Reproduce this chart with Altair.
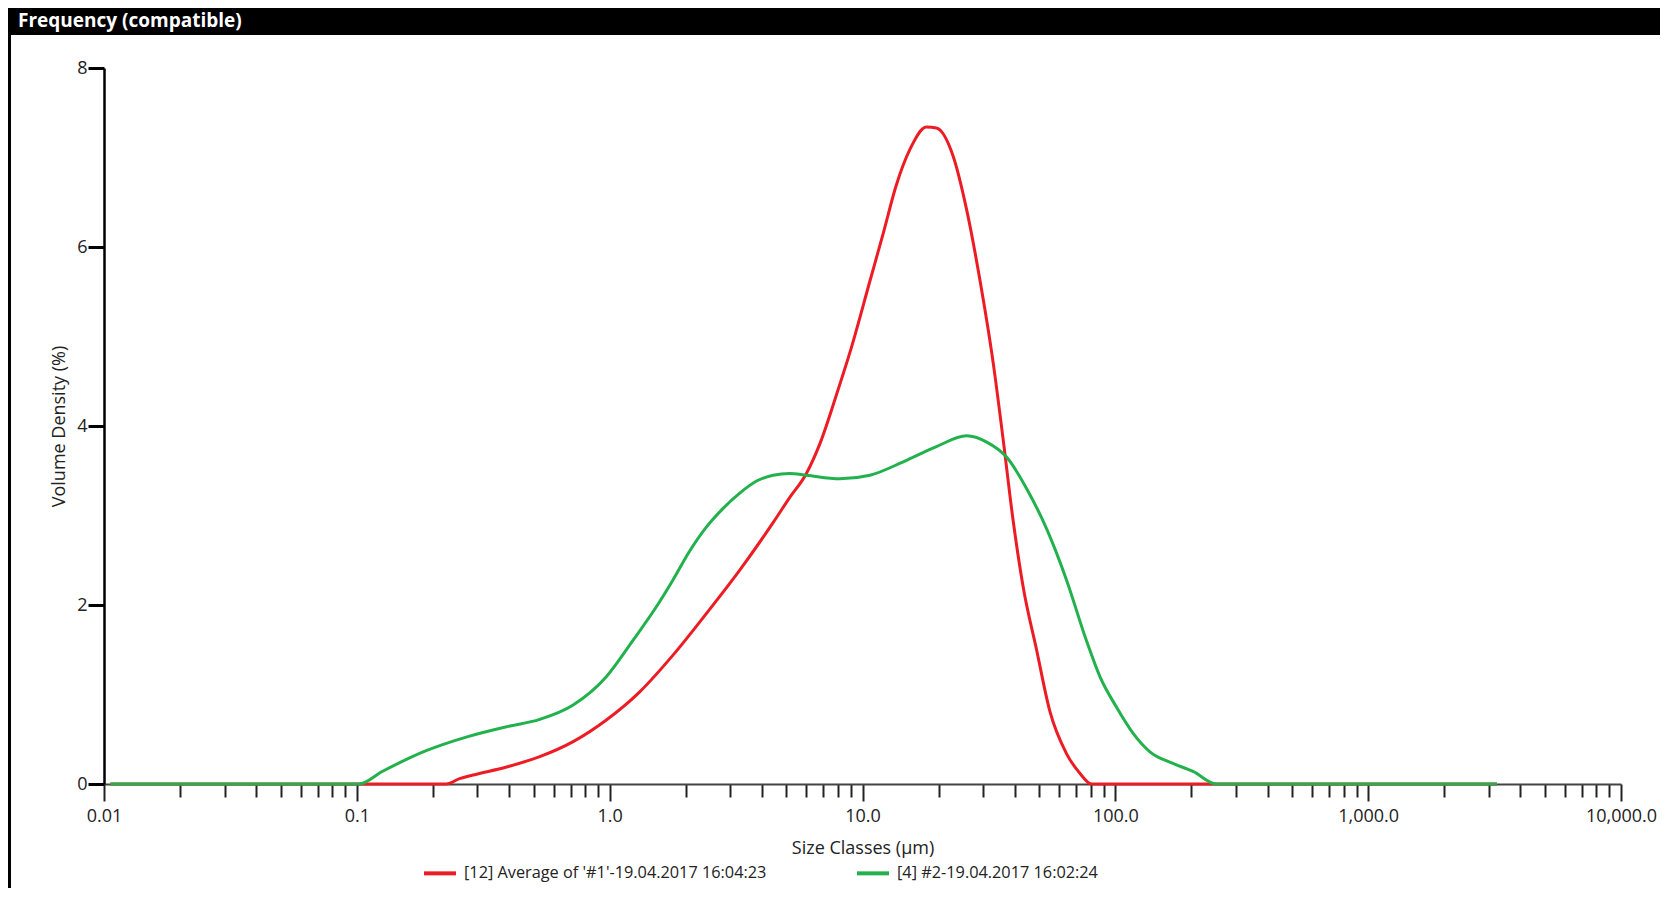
import altair as alt
import pandas as pd

# ---------------- data ----------------
red_label = "[12] Average of '#1'-19.04.2017 16:04:23"
green_label = "[4] #2-19.04.2017 16:02:24"
red_color = "#ED1C24"
green_color = "#22B14C"

red_x = [0.0106, 0.226, 0.255, 0.288, 0.391, 0.529, 0.717, 0.97, 1.315, 1.78, 2.42, 3.27,
         4.43, 5.15, 6.0, 6.78, 7.89, 8.98, 10.7, 12.07, 13.6, 15.4, 17.9, 19.6, 22.8, 25.8,
         29.1, 32.9, 36.0, 39.4, 43.2, 48.8, 55.0, 64.1, 72.4, 80.5, 3230]
red_y = [0, 0, 0.06, 0.10, 0.19, 0.305, 0.473, 0.715, 1.03, 1.44, 1.91, 2.39,
         2.92, 3.20, 3.47, 3.80, 4.35, 4.85, 5.62, 6.15, 6.69, 7.09, 7.34, 7.33, 7.02, 6.42,
         5.64, 4.70, 3.85, 2.95, 2.20, 1.50, 0.82, 0.34, 0.12, 0, 0]

green_x = [0.0106, 0.102, 0.126, 0.187, 0.275, 0.391, 0.529, 0.717, 0.97, 1.24, 1.53, 1.78,
           2.07, 2.42, 2.81, 3.27, 3.81, 4.43, 5.15, 6.0, 8.13, 10.7, 14.5, 19.6, 25.8,
           31.0, 37.2, 44.6, 53.5, 64.1, 76.9, 86.9, 101, 117.6, 137, 169, 203, 251, 3230]
green_y = [0, 0, 0.14, 0.37, 0.53, 0.64, 0.722, 0.883, 1.199, 1.61, 1.98, 2.28,
           2.60, 2.875, 3.08, 3.25, 3.385, 3.45, 3.47, 3.45, 3.41, 3.45, 3.60, 3.77, 3.89,
           3.82, 3.65, 3.30, 2.85, 2.28, 1.60, 1.20, 0.86, 0.566, 0.36, 0.23, 0.14, 0, 0]

x_major = [0.01, 0.1, 1, 10, 100, 1000, 10000]
x_major_labels = ["0.01", "0.1", "1.0", "10.0", "100.0", "1,000.0", "10,000.0"]
x_minor = [round(k * 10 ** e, 6) for e in range(-2, 4) for k in range(2, 10)]
y_ticks = [0, 2, 4, 6, 8]

chart_title = "Frequency (compatible)"
x_title = "Size Classes (µm)"
y_title = "Volume Density (%)"

# ---------------- layout ----------------
FONT = "Open Sans"
FS = 18
W, H = 1517, 716
PAD_L, PAD_T = 96, 60
TOTAL_W, TOTAL_H = 1652, 880

red_df = pd.DataFrame({"size": red_x, "density": red_y, "series": red_label})
green_df = pd.DataFrame({"size": green_x, "density": green_y, "series": green_label})
one = pd.DataFrame({"t": [chart_title]})

major_list = "[" + ",".join(str(v) for v in x_major) + "]"
label_list = "[" + ",".join("'" + s + "'" for s in x_major_labels) + "]"

x_axis = alt.Axis(
    values=sorted(x_major + x_minor),
    labelExpr=f"{label_list}[indexof({major_list}, datum.value)] || ''",
    tickSize={"condition": {"test": f"indexof({major_list}, datum.value) >= 0", "value": 17}, "value": 13},
    tickWidth=2, tickColor="#222222",
    domainColor="#444444", domainWidth=2,
    labelFont=FONT, labelFontSize=FS, labelColor="#222222", labelPadding=6,
    labelOverlap=False, labelFlush=False,
    title=x_title, titleFont=FONT, titleFontSize=FS, titleFontWeight="normal",
    titleColor="#222222", titlePadding=14,
    grid=False,
)
y_axis = alt.Axis(
    values=y_ticks, tickSize=16, tickWidth=3, tickColor="#000000",
    domainColor="#000000", domainWidth=2.5,
    labelFont=FONT, labelFontSize=FS, labelColor="#222222", labelPadding=1,
    title=y_title, titleFont=FONT, titleFontSize=FS, titleFontWeight="normal",
    titleColor="#222222", titlePadding=8,
    grid=False,
)

x_enc = alt.X("size:Q", scale=alt.Scale(type="log", domain=[0.01, 10000], nice=False), axis=x_axis)
y_enc = alt.Y("density:Q", scale=alt.Scale(domain=[0, 8], nice=False, zero=True), axis=y_axis)
color_enc = alt.Color(
    "series:N",
    scale=alt.Scale(domain=[red_label, green_label], range=[red_color, green_color]),
    legend=alt.Legend(
        orient="none", legendX=318, legendY=787, direction="horizontal", title=None,
        symbolType="stroke", symbolSize=1024, symbolStrokeWidth=4,
        labelFont=FONT, labelFontSize=16.3, labelColor="#222222", labelOffset=6,
        labelLimit=2000, columnPadding=82, padding=0,
    ),
)

red_line = alt.Chart(red_df).mark_line(strokeWidth=3, interpolate="monotone").encode(
    x=x_enc, y=y_enc, color=color_enc)
green_line = alt.Chart(green_df).mark_line(strokeWidth=3, interpolate="monotone").encode(
    x=x_enc, y=y_enc, color=color_enc)

bar = alt.Chart(one).mark_rect(color="#000000").encode(
    x=alt.value(-PAD_L), x2=alt.value(TOTAL_W - PAD_L),
    y=alt.value(-PAD_T), y2=alt.value(-PAD_T + 27))
border = alt.Chart(one).mark_rect(color="#000000").encode(
    x=alt.value(-PAD_L), x2=alt.value(-PAD_L + 3),
    y=alt.value(-PAD_T + 27), y2=alt.value(TOTAL_H - PAD_T))
title_text = alt.Chart(one).mark_text(
    font=FONT, fontSize=19, fontWeight="bold", color="#FFFFFF",
    align="left", baseline="alphabetic").encode(
    text="t:N", x=alt.value(-86), y=alt.value(-41))

chart = alt.layer(bar, border, title_text, red_line, green_line).properties(
    width=W, height=H,
    autosize=alt.AutoSizeParams(type="none"),
    padding={"left": PAD_L, "top": PAD_T, "right": TOTAL_W - PAD_L - W, "bottom": TOTAL_H - PAD_T - H},
    view=alt.ViewBackground(stroke="transparent", strokeWidth=0),
).configure_view(stroke="transparent", strokeWidth=0).configure(background="#FFFFFF")

chart.save("out.html", embed_options={"renderer": "svg", "actions": False})
